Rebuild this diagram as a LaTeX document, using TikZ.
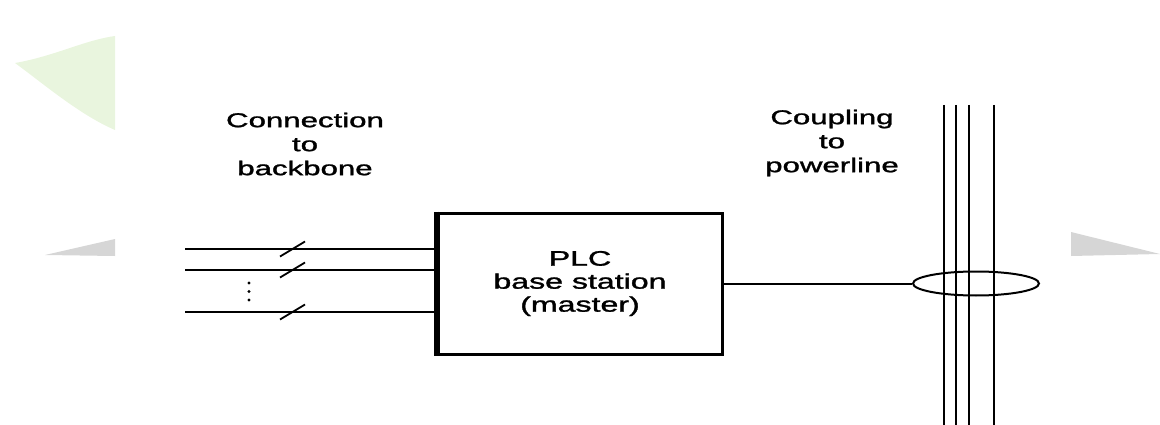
\documentclass[tikz,border=0pt]{standalone}
\usepackage{fontspec}
\newfontfamily\plcfont[FakeBold=1.2]{Liberation Sans}
\usetikzlibrary{shapes.geometric}
\definecolor{leafgreen}{HTML}{E9F5DE}
\definecolor{wedgegray}{HTML}{D6D6D6}

\begin{document}
\begin{tikzpicture}[x=1pt,y=-1pt,
  wire/.style={line width=2pt},
  tick/.style={line width=1.8pt},
  caption/.style={font=\plcfont\fontsize{20}{24}\selectfont, align=center,
    inner sep=0pt, xscale=1.56, transform shape}]
\useasboundingbox (0,0) rectangle (1160,425);
% faint watermark behind the figure
\fill [leafgreen] (15,63) .. controls (55,56) and (85,40) .. (115,36) -- (115,130) .. controls (80,115) and (45,85) .. (15,63);
\fill [wedgegray] (45,255) -- (115,239) -- (115,256) -- cycle;
\fill [wedgegray] (1071,232) -- (1160,254) -- (1071,256) -- cycle;
% base station
\node [draw, line width=3pt, minimum width=284pt, minimum height=141pt] (plc) at (580,283.5) {};
\draw [line width=4.5pt] (plc.north west) -- (plc.south west);
\node [caption, font=\plcfont\fontsize{21}{23}\selectfont, xscale=0.98] (plctext) at (plc) {PLC\\base station\\(master)};
% backbone side
\foreach \y/\n in {249/1,270/2,312/3} {
  \coordinate (in\n) at (185,\y);
  \draw [wire] (in\n) -- (in\n -| plc.west);
  \draw [tick] (280,\y+7.5) -- (305,\y-7.5);
}
\foreach \y in {283,291.5,300}
  \fill (249,\y) circle (1.6pt);
\node [caption] (backbone) at (305,144) {Connection\\to\\backbone};
% powerline side
\node [draw, ellipse, wire, minimum width=126pt, minimum height=24pt, inner sep=0pt] (coupler) at (976,283.5) {};
\draw [wire] (plc.east) -- (coupler.west);
\foreach \x/\w in {944/1.8,956/2,969/2.8,994/1.8}
  \draw [line width=\w pt] (\x,105) -- (\x,425);
\node [caption] (powerline) at (832,143) {Coupling\\to\\powerline};
\end{tikzpicture}
\end{document}
